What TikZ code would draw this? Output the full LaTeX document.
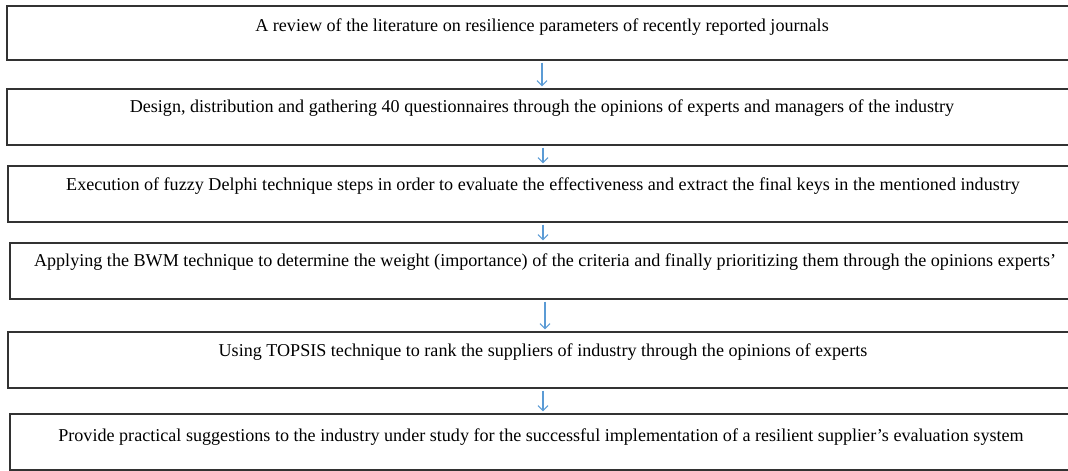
\documentclass[tikz,border=0pt]{standalone}
\usepackage{fontspec}
\setmainfont{Liberation Serif}
\usetikzlibrary{arrows.meta,fit}
\definecolor{arrowblue}{RGB}{91,155,213}
\definecolor{boxline}{RGB}{50,50,50}
\tikzset{
  x=1pt, y=-1pt,
  stepbox/.style={draw=boxline, line width=1.3pt, inner sep=0pt, rectangle},
  steptext/.style={font=\fontsize{18.1}{20}\selectfont, inner sep=0pt, anchor=center},
  flowarrow/.style={draw=arrowblue, line width=1.1pt, -{Straight Barb[length=5pt,width=10pt]}, shorten <=2pt, shorten >=2pt}
}
\begin{document}
\begin{tikzpicture}
\useasboundingbox (0,0) rectangle (1068,471);
\clip (0,0) rectangle (1068,471);
\node[stepbox, fit={(7,6)(1085,60)}] (b1) {};
\node[stepbox, fit={(7,89)(1085,145)}] (b2) {};
\node[stepbox, fit={(8,166)(1085,222)}] (b3) {};
\node[stepbox, fit={(10,243)(1085,299)}] (b4) {};
\node[stepbox, fit={(8,332)(1085,388)}] (b5) {};
\node[stepbox, fit={(10,414)(1085,470)}] (b6) {};
\node[steptext] (t1) at (542,27) {A review of the literature on resilience parameters of recently reported journals};
\node[steptext] (t2) at (542,108) {Design, distribution and gathering 40 questionnaires through the opinions of experts and managers of the industry};
\node[steptext] (t3) at (543,186) {Execution of fuzzy Delphi technique steps in order to evaluate the effectiveness and extract the final keys in the mentioned industry};
\node[steptext] (t4) at (545,262) {Applying the BWM technique to determine the weight (importance) of the criteria and finally prioritizing them through the opinions experts’};
\node[steptext] (t5) at (543,352) {Using TOPSIS technique to rank the suppliers of industry through the opinions of experts};
\node[steptext] (t6) at (541,437) {Provide practical suggestions to the industry under study for the successful implementation of a resilient supplier’s evaluation system};
\draw[flowarrow] (t2 |- b1.south) -- (t2 |- b2.north);
\draw[flowarrow] (t3 |- b2.south) -- (t3 |- b3.north);
\draw[flowarrow] (t3 |- b3.south) -- (t3 |- b4.north);
\draw[flowarrow] (t4 |- b4.south) -- (t4 |- b5.north);
\draw[flowarrow] (t3 |- b5.south) -- (t3 |- b6.north);
\end{tikzpicture}
\end{document}
